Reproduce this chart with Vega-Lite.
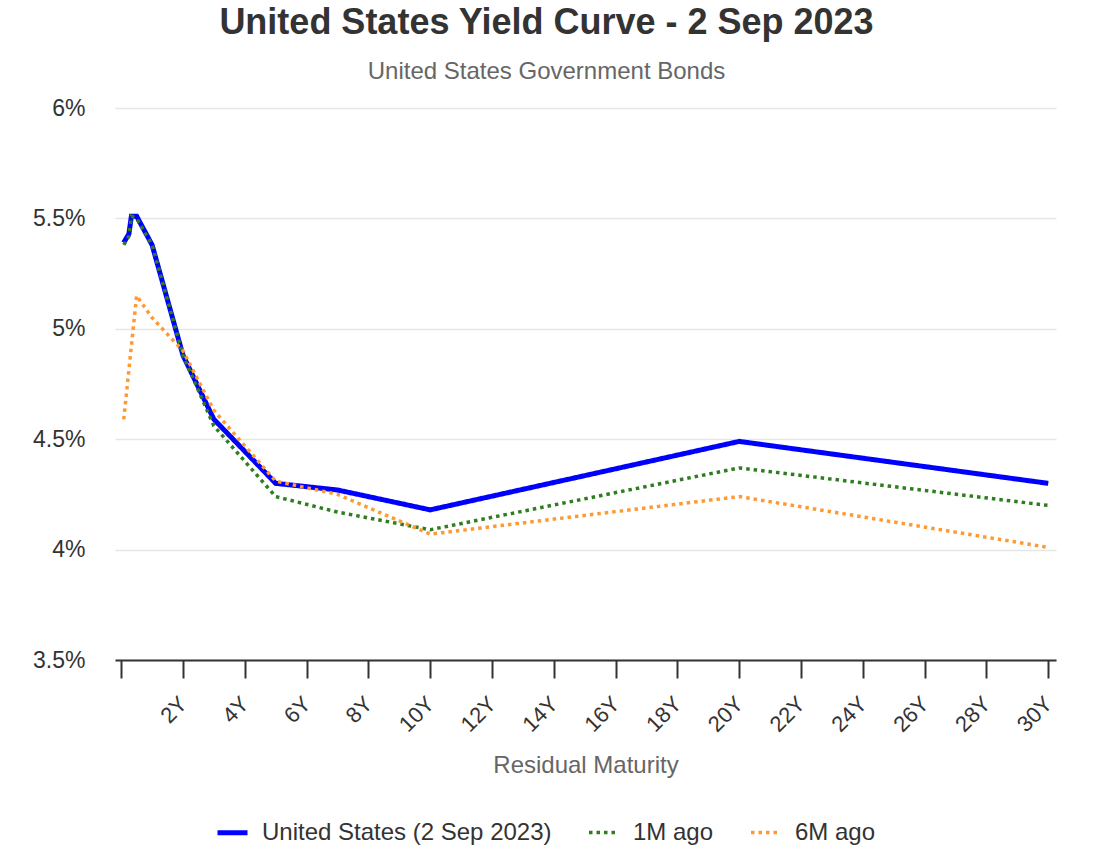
{
  "$schema": "https://vega.github.io/schema/vega-lite/v6.json",
  "autosize": {"type": "none"},
  "width": 941,
  "height": 552,
  "padding": {"top": 108, "left": 115, "right": 45, "bottom": 196},
  "background": "white",
  "config": {
    "font": "Liberation Sans",
    "view": {"stroke": null}
  },
  "title": {
    "text": "United States Yield Curve - 2 Sep 2023",
    "subtitle": "United States Government Bonds",
    "anchor": "middle",
    "frame": "group",
    "dx": -39,
    "fontSize": 36,
    "fontWeight": "bold",
    "color": "#333333",
    "subtitleFontSize": 24,
    "subtitleColor": "#666666",
    "subtitlePadding": 18,
    "offset": 12
  },
  "data": {
    "values": [
      {"series": "United States (2 Sep 2023)", "m": 0.083, "y": 5.39},
      {"series": "United States (2 Sep 2023)", "m": 0.25, "y": 5.43},
      {"series": "United States (2 Sep 2023)", "m": 0.33, "y": 5.51},
      {"series": "United States (2 Sep 2023)", "m": 0.5, "y": 5.51},
      {"series": "United States (2 Sep 2023)", "m": 1, "y": 5.38},
      {"series": "United States (2 Sep 2023)", "m": 2, "y": 4.88},
      {"series": "United States (2 Sep 2023)", "m": 3, "y": 4.59},
      {"series": "United States (2 Sep 2023)", "m": 5, "y": 4.30},
      {"series": "United States (2 Sep 2023)", "m": 7, "y": 4.27},
      {"series": "United States (2 Sep 2023)", "m": 10, "y": 4.18},
      {"series": "United States (2 Sep 2023)", "m": 20, "y": 4.49},
      {"series": "United States (2 Sep 2023)", "m": 30, "y": 4.30},
      {"series": "1M ago", "m": 0.083, "y": 5.38},
      {"series": "1M ago", "m": 0.25, "y": 5.42},
      {"series": "1M ago", "m": 0.33, "y": 5.51},
      {"series": "1M ago", "m": 0.5, "y": 5.50},
      {"series": "1M ago", "m": 1, "y": 5.38},
      {"series": "1M ago", "m": 2, "y": 4.88},
      {"series": "1M ago", "m": 3, "y": 4.56},
      {"series": "1M ago", "m": 5, "y": 4.24},
      {"series": "1M ago", "m": 7, "y": 4.17},
      {"series": "1M ago", "m": 10, "y": 4.09},
      {"series": "1M ago", "m": 20, "y": 4.37},
      {"series": "1M ago", "m": 30, "y": 4.20},
      {"series": "6M ago", "m": 0.083, "y": 4.59},
      {"series": "6M ago", "m": 0.5, "y": 5.15},
      {"series": "6M ago", "m": 1, "y": 5.05},
      {"series": "6M ago", "m": 2, "y": 4.90},
      {"series": "6M ago", "m": 3, "y": 4.63},
      {"series": "6M ago", "m": 5, "y": 4.31},
      {"series": "6M ago", "m": 7, "y": 4.25},
      {"series": "6M ago", "m": 10, "y": 4.07},
      {"series": "6M ago", "m": 20, "y": 4.24},
      {"series": "6M ago", "m": 30, "y": 4.01}
    ]
  },
  "mark": {"type": "line", "interpolate": "linear", "strokeCap": "butt"},
  "encoding": {
    "x": {
      "field": "m",
      "type": "quantitative",
      "scale": {"domain": [-0.2, 30.25], "nice": false, "zero": false},
      "axis": {
        "values": [0, 2, 4, 6, 8, 10, 12, 14, 16, 18, 20, 22, 24, 26, 28, 30],
        "labelExpr": "datum.value == 0 ? '' : datum.value + 'Y'",
        "grid": false,
        "domainColor": "#333333",
        "domainWidth": 2,
        "tickColor": "#333333",
        "tickWidth": 2,
        "tickSize": 18,
        "labelAngle": -45,
        "labelAlign": "right",
        "labelBaseline": "middle",
        "labelPadding": 22,
        "labelFontSize": 22,
        "labelColor": "#333333",
        "labelOverlap": false,
        "labelBound": false,
        "title": "Residual Maturity",
        "titleFontSize": 24,
        "titleFontWeight": "normal",
        "titleColor": "#666666",
        "titlePadding": 18
      }
    },
    "y": {
      "field": "y",
      "type": "quantitative",
      "scale": {"domain": [3.5, 6], "nice": false, "zero": false},
      "axis": {
        "values": [3.5, 4, 4.5, 5, 5.5, 6],
        "labelExpr": "format(datum.value, '~g') + '%'",
        "grid": true,
        "gridColor": "#e6e6e6",
        "gridWidth": 1.5,
        "domain": false,
        "ticks": false,
        "labelPadding": 30,
        "labelFontSize": 23,
        "labelColor": "#333333",
        "title": null
      }
    },
    "color": {
      "field": "series",
      "type": "nominal",
      "scale": {
        "domain": ["United States (2 Sep 2023)", "1M ago", "6M ago"],
        "range": ["#0000ff", "#2e7d1f", "#ff9a33"]
      },
      "legend": {
        "orient": "none",
        "legendX": 100,
        "legendY": 707,
        "direction": "horizontal",
        "title": null,
        "labelFontSize": 24,
        "labelColor": "#333333",
        "labelLimit": 500,
        "symbolType": "stroke",
        "symbolSize": 900,
        "labelOffset": 12,
        "columnPadding": 30
      }
    },
    "strokeDash": {
      "field": "series",
      "type": "nominal",
      "scale": {
        "domain": ["United States (2 Sep 2023)", "1M ago", "6M ago"],
        "range": [[1, 0], [3.5, 4], [3.5, 4]]
      }
    },
    "strokeWidth": {
      "field": "series",
      "type": "nominal",
      "scale": {
        "type": "ordinal",
        "domain": ["United States (2 Sep 2023)", "1M ago", "6M ago"],
        "range": [5, 3.5, 3.5]
      }
    }
  }
}
